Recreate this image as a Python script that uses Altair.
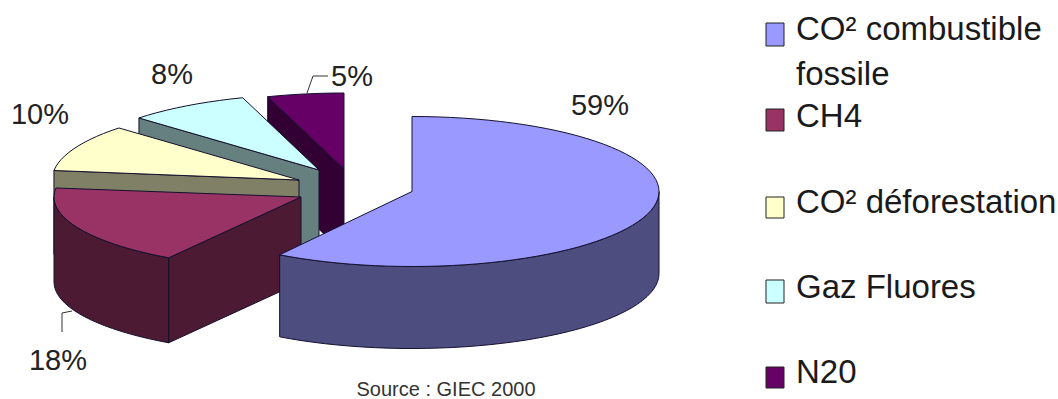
import math
import altair as alt
import pandas as pd

# Pie data, in drawing order (clockwise from 12 o'clock for the start angles)
names = ["CO² combustible fossile", "CH4", "CO² déforestation", "Gaz Fluores", "N20"]
shares = [59, 18, 10, 8, 5]
top_colors = ["#9999FF", "#993366", "#FFFFCC", "#CCFFFF", "#660066"]
side_colors = ["#4D4D80", "#4D1A33", "#808066", "#668080", "#330033"]

# Each wedge is pulled away from the pie centre to its own apex
apex_x = [412, 301, 299, 319, 344]
apex_y = [191.5, 197, 180, 170, 169]
radius_y = [75, 72, 76, 76, 76]
depth = [82, 85, 84, 84, 84]
RX = 247

# Free-standing text: label, x, baseline y
label_text = ["59%", "18%", "10%", "8%", "5%"]
label_x = [600, 58, 40, 172, 352]
label_y = [115, 370, 124, 84, 86]

legend_lines = ["CO² combustible", "fossile", "CH4", "CO² déforestation", "Gaz Fluores", "N20"]
legend_line_y = [40, 85, 127, 213, 298, 383]
swatch_y0 = [23, 109, 197, 280, 367]
swatch_y1 = [46, 131, 218, 303, 388]


def rim(i, a0, a1, dy=0.0, step=3.0):
    """Points on the ellipse of wedge i between two angles in degrees."""
    n = max(2, int(abs(a1 - a0) / step) + 1)
    pts = []
    for k in range(n + 1):
        a = math.radians(a0 + (a1 - a0) * k / n)
        pts.append([apex_x[i] + RX * math.sin(a), apex_y[i] - radius_y[i] * math.cos(a) + dy])
    return pts


def feature(ring, fill, stroke):
    ring = [list(p) for p in ring]
    ring.append(list(ring[0]))
    return {
        "type": "Feature",
        "geometry": {"type": "Polygon", "coordinates": [ring]},
        "properties": {"fill": fill, "stroke": stroke},
    }


starts = [0.0]
for s in shares:
    starts.append(starts[-1] + s * 3.6)

OUTLINE = "#14102E"
features = []
for i in [4, 3, 2, 1, 0]:
    a0, a1 = starts[i], starts[i + 1]
    d = depth[i]
    apex = [apex_x[i], apex_y[i]]
    apex_low = [apex_x[i], apex_y[i] + d]
    # Cut face seen from the front on every wedge except the largest one
    if i in (1, 2, 3, 4):
        edge = rim(i, a0, a0)[0]
        features.append(feature([edge, apex, apex_low, [edge[0], edge[1] + d]],
                                side_colors[i], OUTLINE))
    # Outer wall along the visible part of the rim
    lo, hi = max(a0, 90.0), min(a1, 270.0)
    if lo < hi:
        upper = rim(i, lo, hi)
        lower = rim(i, hi, lo, dy=d)
        features.append(feature(upper + lower, side_colors[i], OUTLINE))
    # Top surface
    features.append(feature([apex] + rim(i, a0, a1), top_colors[i], OUTLINE))

pie = (
    alt.Chart(alt.Data(values=features))
    .mark_geoshape(strokeWidth=1, strokeJoin="round")
    .encode(
        fill=alt.Fill("properties.fill:N", scale=None),
        stroke=alt.Stroke("properties.stroke:N", scale=None),
    )
    .project(type="identity", scale=1, translate=[0, 0])
)

x_scale = alt.Scale(domain=[0, 1058], range=[0, 1058])
y_scale = alt.Scale(domain=[0, 399], range=[0, 399])
X = alt.X("x:Q", scale=x_scale, axis=None)
Y = alt.Y("y:Q", scale=y_scale, axis=None)

# Leader lines from the small wedges to their labels
leaders = pd.DataFrame(
    {
        "leader": ["n2o"] * 3 + ["ch4"] * 3,
        "step": [0, 1, 2, 0, 1, 2],
        "x": [307, 313, 328, 72, 62, 62],
        "y": [93, 76, 76, 311, 313, 332],
    }
)
leader_layer = (
    alt.Chart(leaders)
    .mark_line(color="#333333", strokeWidth=1)
    .encode(x=X, y=Y, detail="leader:N", order="step:Q")
)

labels = pd.DataFrame({"t": label_text, "x": label_x, "y": label_y})
label_layer = (
    alt.Chart(labels)
    .mark_text(font="Liberation Sans", fontSize=29, align="center", baseline="alphabetic", color="#222222")
    .encode(x=X, y=Y, text="t:N")
)

legend = pd.DataFrame({"t": legend_lines, "x": [796] * 6, "y": legend_line_y})
legend_layer = (
    alt.Chart(legend)
    .mark_text(font="Liberation Sans", fontSize=33, align="left", baseline="alphabetic", color="#1A1A1A")
    .encode(x=X, y=Y, text="t:N")
)

swatches = pd.DataFrame(
    {
        "x": [766] * 5,
        "x1": [784] * 5,
        "y": swatch_y0,
        "y1": swatch_y1,
        "c": top_colors,
    }
)
swatch_layer = (
    alt.Chart(swatches)
    .mark_rect(stroke="#222222", strokeWidth=1)
    .encode(x=X, x2="x1:Q", y=Y, y2="y1:Q", fill=alt.Fill("c:N", scale=None))
)

source = pd.DataFrame({"t": ["Source : GIEC 2000"], "x": [446], "y": [396]})
source_layer = (
    alt.Chart(source)
    .mark_text(font="Liberation Sans", fontSize=20, align="center", baseline="alphabetic", color="#333333")
    .encode(x=X, y=Y, text="t:N")
)

chart = (
    alt.layer(pie, leader_layer, label_layer, swatch_layer, legend_layer, source_layer)
    .properties(width=1058, height=399, padding=0, autosize=alt.AutoSizeParams(type="none"), background="#FFFFFF")
    .configure_view(stroke=None)
)

chart.save("out.html", embed_options={"renderer": "svg", "actions": False})
